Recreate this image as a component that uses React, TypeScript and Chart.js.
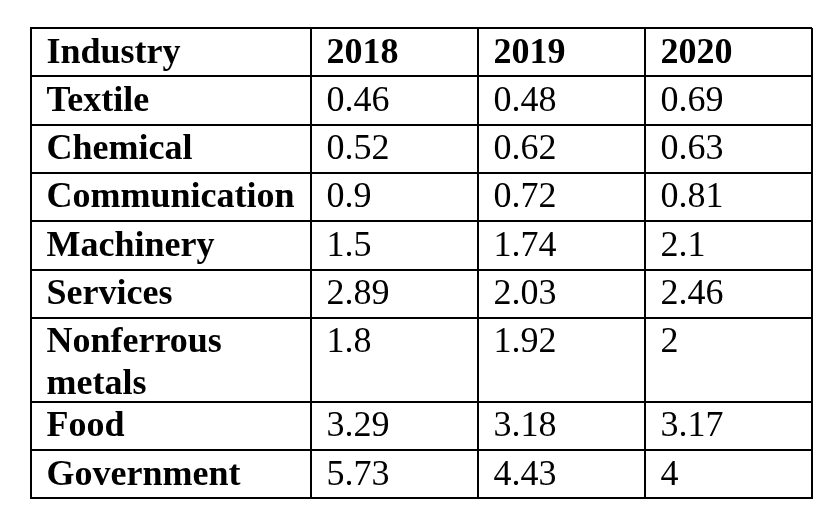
import React, { useEffect, useRef } from "react";
import { Chart, registerables } from "chart.js";

Chart.register(...registerables);

// ---- data ----
const headerLabel = "Industry";
const years = ["2018", "2019", "2020"];
const industries = [
  "Textile",
  "Chemical",
  "Communication",
  "Machinery",
  "Services",
  "Nonferrous metals",
  "Food",
  "Government",
];
const values2018 = [0.46, 0.52, 0.9, 1.5, 2.89, 1.8, 3.29, 5.73];
const values2019 = [0.48, 0.62, 0.72, 1.74, 2.03, 1.92, 3.18, 4.43];
const values2020 = [0.69, 0.63, 0.81, 2.1, 2.46, 2, 3.17, 4];

// ---- layout ----
const W = 834;
const H = 525;
const FONT_FAMILY = '"Liberation Serif", "Times New Roman", serif';
const FONT_SIZE = 36;
const FIRST_COL_W = 280;
const COL_W = 167;
const PAD_X = 15.5;
const ROW_H = 48.3;
const EXTRA_LINE_H = 35.7;
const LINE_GAP = 41.6;
const BASELINE = 34.5;
const LEFT = 31;
const TOP = 28;

function wrapText(ctx: CanvasRenderingContext2D, text: string, maxW: number): string[] {
  const words = text.split(" ");
  const lines: string[] = [];
  let cur = "";
  for (const w of words) {
    const test = cur ? cur + " " + w : w;
    if (cur && ctx.measureText(test).width > maxW) {
      lines.push(cur);
      cur = w;
    } else cur = test;
  }
  if (cur) lines.push(cur);
  return lines;
}

export default function App() {
  const ref = useRef<HTMLCanvasElement | null>(null);

  useEffect(() => {
    const canvas = ref.current!;
    const mctx = document.createElement("canvas").getContext("2d")!;
    mctx.font = `bold ${FONT_SIZE}px ${FONT_FAMILY}`;

    const columns = [values2018, values2019, values2020];
    const rows: { cells: string[]; bold: boolean[] }[] = [
      { cells: [headerLabel, ...years], bold: [true, true, true, true] },
      ...industries.map((name, i) => ({
        cells: [name, ...columns.map((c) => String(c[i]))],
        bold: [true, false, false, false],
      })),
    ];
    const colWidths = [FIRST_COL_W, ...years.map(() => COL_W)];
    const colEdges: number[] = [0];
    colWidths.forEach((w) => colEdges.push(colEdges[colEdges.length - 1] + w));

    const wrapped = rows.map((r) =>
      r.cells.map((t, c) => {
        mctx.font = `${r.bold[c] ? "bold " : ""}${FONT_SIZE}px ${FONT_FAMILY}`;
        return wrapText(mctx, t, colWidths[c] - 2 * PAD_X);
      })
    );
    const rowEdges: number[] = [0];
    wrapped.forEach((cells) => {
      const n = Math.max(...cells.map((l) => l.length));
      rowEdges.push(rowEdges[rowEdges.length - 1] + ROW_H + (n - 1) * EXTRA_LINE_H);
    });
    const totalW = colEdges[colEdges.length - 1];
    const totalH = rowEdges[rowEdges.length - 1];

    const textPlugin = {
      id: "cellText",
      afterDraw(chart: any) {
        const { ctx } = chart;
        const xs = chart.scales.x;
        const ys = chart.scales.y;
        ctx.save();
        ctx.fillStyle = "#000";
        ctx.textBaseline = "alphabetic";
        ctx.textAlign = "left";
        wrapped.forEach((cells, r) => {
          cells.forEach((lines, c) => {
            ctx.font = `${rows[r].bold[c] ? "bold " : ""}${FONT_SIZE}px ${FONT_FAMILY}`;
            const x = xs.getPixelForValue(colEdges[c]) + PAD_X;
            const y0 = ys.getPixelForValue(rowEdges[r]) + BASELINE;
            lines.forEach((ln, k) => ctx.fillText(ln, x, y0 + k * LINE_GAP));
          });
        });
        ctx.restore();
      },
    };

    const bgPlugin = {
      id: "bg",
      beforeDraw(chart: any) {
        const { ctx } = chart;
        ctx.save();
        ctx.fillStyle = "#fff";
        ctx.fillRect(0, 0, chart.width, chart.height);
        ctx.restore();
      },
    };

    const chart = new Chart(canvas, {
      type: "scatter",
      data: { datasets: [] },
      options: {
        responsive: false,
        animation: false,
        maintainAspectRatio: false,
        layout: {
          padding: { left: LEFT, top: TOP, right: W - LEFT - totalW, bottom: H - TOP - totalH },
        },
        plugins: { legend: { display: false }, tooltip: { enabled: false } },
        scales: {
          x: {
            type: "linear",
            position: "bottom",
            min: 0,
            max: totalW,
            afterBuildTicks: (s: any) => {
              s.ticks = colEdges.map((v) => ({ value: v }));
            },
            ticks: { display: false },
            grid: { color: "#000", lineWidth: 2, drawTicks: false },
            border: { display: true, color: "#000", width: 2 },
          },
          y: {
            type: "linear",
            position: "left",
            reverse: true,
            min: 0,
            max: totalH,
            afterBuildTicks: (s: any) => {
              s.ticks = rowEdges.map((v) => ({ value: v }));
            },
            ticks: { display: false },
            grid: { color: "#000", lineWidth: 2, drawTicks: false },
            border: { display: true, color: "#000", width: 2 },
          },
        },
      },
      plugins: [bgPlugin, textPlugin],
    } as any);
    return () => chart.destroy();
  }, []);

  return (
    <div style={{ position: "fixed", left: 0, top: 0, width: W, height: H, background: "#fff" }}>
      <canvas ref={ref} width={W} height={H} style={{ display: "block", width: W, height: H }} />
    </div>
  );
}
